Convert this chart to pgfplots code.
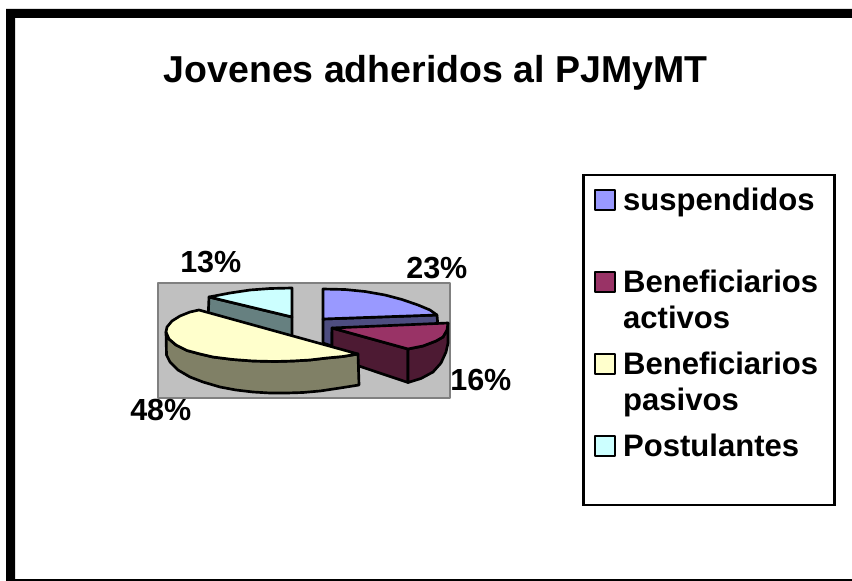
\documentclass[border=0pt]{standalone}
\usepackage{pgfplots}
\pgfplotsset{compat=1.18}
\usepackage{fontspec}
\setmainfont{Liberation Sans}
\definecolor{cbg}{HTML}{C0C0C0}
\definecolor{cbd}{HTML}{808080}
\definecolor{ca}{HTML}{9999FF}
\definecolor{cas}{HTML}{4D4D80}
\definecolor{cb}{HTML}{993366}
\definecolor{cbs}{HTML}{4D1A33}
\definecolor{cc}{HTML}{FFFFCC}
\definecolor{ccs}{HTML}{808066}
\definecolor{cd}{HTML}{CCFFFF}
\definecolor{cds}{HTML}{668080}
\newcommand{\LE}[2]{\parbox[t]{151pt}{\baselineskip=27pt #1\ifx&#2&\else\\#2\fi}}
\begin{document}
\begin{tikzpicture}
\useasboundingbox (0,0) rectangle (639pt,435.75pt);
\begin{axis}[
  at={(0,0)},anchor=south west,
  scale only axis,width=639pt,height=435.75pt,
  xmin=0,xmax=852,ymin=0,ymax=581,y dir=reverse,
  hide axis,clip=true,
  every axis plot/.append style={line join=round,line width=2pt},
  legend image code/.code={\draw[#1,line width=1.9pt] (0pt,0pt) rectangle (15pt,15pt);},
  legend style={at={(axis cs:583.5,175)},anchor=north west,draw=black,line width=1.7pt,fill=white,
    inner sep=0pt,outer sep=0pt,row sep=0pt,
    nodes={inner sep=0pt,outer sep=0pt,text height=25.5pt,text depth=36pt,font=\fontsize{23.3}{27}\selectfont\bfseries},
    cells={anchor=base west},
    /tikz/every odd column/.append style={column sep=5.3pt},
    inner xsep=7.5pt,inner ysep=0.75pt},
]
% frame
\addplot[forget plot,fill=black,draw=none] coordinates {(6,9)(852,9)(852,18)(15,18)(15,581)(6,581)} --cycle;
\addplot[forget plot,fill=black,draw=none] coordinates {(15,579.3)(852,579.3)(852,581)(15,581)} --cycle;
% plot wall
\addplot[forget plot,fill=cbg,draw=cbd,line width=2pt] coordinates {(158,283)(450,283)(450,398)(158,398)} --cycle;
% sides of suspendidos
\addplot[forget plot,fill=cas,draw=black] coordinates {(323,319)(437,315)(438,327)(332,332)(332,346)(323,343)} --cycle;
\addplot[fill=ca,draw=black] coordinates {(323,319)(323,289)(345,289.5)(365,291.5)(385,295)(402,299.5)(418,305)(430,310)(437,315)} --cycle;
\addlegendentry{\LE{suspendidos}{}}
% sides of Beneficiarios activos
\addplot[forget plot,fill=cbs,draw=black] coordinates {(332,328)(408,349)(408,382.5)(332,357)} --cycle;
\addplot[forget plot,fill=cbs,draw=black] coordinates {(448,323)(447,330)(443,337)(436,341)(423,346)(408,349)(408,382.5)(421,378.5)(433,372)(441,363)(446,352)(448,343)} --cycle;
\addplot[fill=cb,draw=black] coordinates {(332,328)(448,323)(447,330)(443,337)(436,341)(423,346)(408,349)} --cycle;
\addlegendentry{\LE{Beneficiarios}{activos}}
% side of Postulantes
\addplot[forget plot,fill=cds,draw=black] coordinates {(209,297)(292,317)(292,337)(208,320)} --cycle;
% side of Beneficiarios pasivos
\addplot[forget plot,fill=ccs,draw=black] coordinates {(166,332)(169,339)(176,345)(187,350.5)(200,354)(213,357)(233,359.5)(253,361)(275,361.5)(293,361)(310,360)(327,358)(343,356.5)(358,354)(359,385)(340,388)(320,391)(303,392.5)(287,393)(270,393)(253,392)(236,390)(220,387)(203,382)(190,377)(178,370)(170,362)(166.5,355)} --cycle;
\addplot[fill=cc,draw=black] coordinates {(358,354)(199,310)(190,312)(180,316)(172,321)(167,327)(166,332)(169,339)(176,345)(187,350.5)(200,354)(213,357)(233,359.5)(253,361)(275,361.5)(293,361)(310,360)(327,358)(343,356.5)} --cycle;
\addlegendentry{\LE{Beneficiarios}{pasivos}}
\addplot[fill=cd,draw=black] coordinates {(292,317)(292,288)(270,288.5)(250,290)(230,293)(209,297)} --cycle;
\addlegendentry{\LE{Postulantes}{}}
% texts
\node[anchor=base,inner sep=0pt,font=\fontsize{28.1}{32}\selectfont\bfseries] at (axis cs:435.5,83) {Jovenes adheridos al PJMyMT};
\node[anchor=base west,inner sep=0pt,font=\fontsize{22.9}{27}\selectfont\bfseries] at (axis cs:180,272) {13\%};
\node[anchor=base west,inner sep=0pt,font=\fontsize{22.9}{27}\selectfont\bfseries] at (axis cs:406,278) {23\%};
\node[anchor=base west,inner sep=0pt,font=\fontsize{22.9}{27}\selectfont\bfseries] at (axis cs:450,390) {16\%};
\node[anchor=base west,inner sep=0pt,font=\fontsize{22.9}{27}\selectfont\bfseries] at (axis cs:130,420) {48\%};
\end{axis}
\end{tikzpicture}
\end{document}
